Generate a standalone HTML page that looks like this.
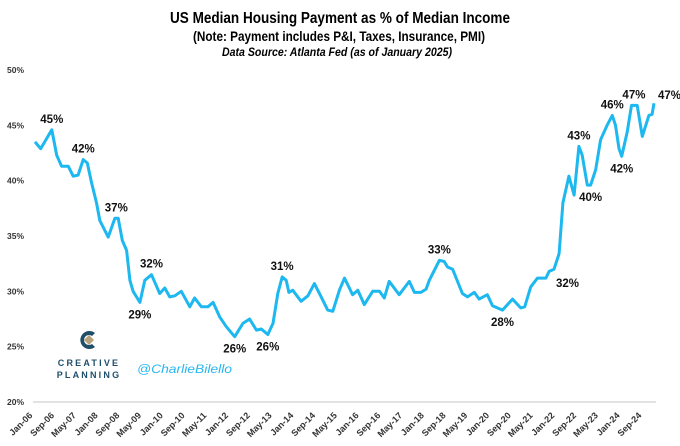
<!DOCTYPE html>
<html><head><meta charset="utf-8"><style>
body{margin:0;background:#fff;}
svg{display:block;font-family:"Liberation Sans",sans-serif;}
</style></head><body>
<svg width="680" height="446" viewBox="0 0 680 446">
<text x="340" y="23" text-anchor="middle" font-size="16" font-weight="bold" textLength="340" lengthAdjust="spacingAndGlyphs">US Median Housing Payment as % of Median Income</text>
<text x="339" y="41" text-anchor="middle" font-size="14" font-weight="bold" textLength="292" lengthAdjust="spacingAndGlyphs">(Note: Payment includes P&amp;I, Taxes, Insurance, PMI)</text>
<text x="337" y="56" text-anchor="middle" font-size="12" font-weight="bold" font-style="italic" textLength="230" lengthAdjust="spacingAndGlyphs">Data Source: Atlanta Fed (as of January 2025)</text>
<g id="yaxis"></g>
<g id="xaxis"></g>
<line x1="33" x2="656" y1="402" y2="402" stroke="#d9d9d9" stroke-width="1.5"/>
<path id="line" fill="none" stroke="#1cb8ef" stroke-width="3" stroke-linejoin="round"/>
<g id="labels"></g>
<g>
<path d="M95 333 A9 9 0 1 0 95 347 L92 344 A5 5 0 1 1 92 336 Z" fill="#1f4e6b"/>
<path d="M89 335 L94 340 L89 345 L84 340 Z" fill="#b9a27a"/>
<text x="89" y="366" text-anchor="middle" font-size="9" font-weight="bold" fill="#1f4e6b" letter-spacing="2.2">CREATIVE</text>
<text x="89" y="378" text-anchor="middle" font-size="9" font-weight="bold" fill="#1f4e6b" letter-spacing="2.2">PLANNING</text>
</g>
<text x="137" y="373" font-size="12" font-style="italic" fill="#29b6f0" textLength="95" lengthAdjust="spacingAndGlyphs">@CharlieBilello</text>
</svg>
<script>
const yTicks=[20,25,30,35,40,45,50];
const xLabels=["Jan-06","Sep-06","May-07","Jan-08","Sep-08","May-09","Jan-10","Sep-10","May-11","Jan-12","Sep-12","May-13","Jan-14","Sep-14","May-15","Jan-16","Sep-16","May-17","Jan-18","Sep-18","May-19","Jan-20","Sep-20","May-21","Jan-22","Sep-22","May-23","Jan-24","Sep-24"];
const months=[0,2.1,6.2,8,9.8,12.3,14.1,15.9,17.8,19.3,20.9,22.7,23.9,27,29.5,30.7,32.2,33.8,35,36.2,38.7,40.5,43,46,47.9,49.7,51.6,54,57.1,58.9,61.4,63.8,65.7,68.1,70.6,73.7,76.7,79.2,81.7,83.5,85.9,87.8,89.6,91.2,92.7,93.7,95.1,98.2,100.7,103.1,105.6,108,109.9,112.3,114.2,117.2,119.1,121.5,124.6,127.1,128.9,130.7,134.4,138.1,140,142.4,144.3,145.5,149.2,151,152.2,154.1,157.7,159.6,162.1,163.9,166.9,168.8,172.5,176.2,179.2,180.7,182.9,185.4,188.5,189.7,191.5,193.4,194.8,197,198.9,200.7,201.9,203.8,205,206.9,208.7,211.1,213,214.2,215.5,216.5,218.5,220.1,222.2,224.1,226.5,227.7,228.4];
const values=[43.5,42.9,44.6,42.3,41.3,41.3,40.4,40.5,41.9,41.6,39.8,38,36.4,34.9,36.6,36.6,34.6,33.7,31,30,29,31,31.5,29.8,30.3,29.5,29.6,30,28.6,29.4,28.6,28.6,29,27.7,26.8,25.9,27.1,27.5,26.5,26.6,26.1,27.1,29.8,31.3,31,29.9,30.1,29.1,29.6,30.7,29.5,28.3,28.2,30.1,31.2,29.7,30.1,28.8,30,30,29.4,30.9,29.7,30.9,29.9,29.9,30.2,31,32.8,32.7,32.2,32,29.8,29.5,29.9,29.3,29.7,28.7,28.3,29.3,28.5,28.6,30.4,31.2,31.2,31.8,32,33.4,38,40.4,38.7,43.1,42.3,39.6,39.6,41,43.7,45,45.9,45,42.9,42.2,44.4,46.8,46.8,44,45.9,46,47];
const annMonths=[6.2,17.8,30,43,38.7,73.7,85.9,91.2,149.2,172.5,191.5,200.7,205,213,216.5,221,228.4];
const annValues=[44.6,41.9,36.6,31.5,29,25.9,26.1,31.3,32.8,28.3,32,43.1,39.6,45.9,42.2,46.8,47];
const annText=["45%","42%","37%","32%","29%","26%","26%","31%","33%","28%","32%","43%","40%","46%","42%","47%","47%"];
const annPos=["a","a","a","a","b","b","b","a","a","b","r","a","b","a","b","a","r2"];
const NS="http://www.w3.org/2000/svg";
const X0=35,X1=654,M1=228.4,Y20=402,Y50=70;
function xs(m){return X0+(X1-X0)*m/M1;}
function ys(v){return Y20-(v-20)*(Y20-Y50)/30;}
function xl(i){return 33+i*21.75;}
const ya=document.getElementById('yaxis');
yTicks.forEach(t=>{const e=document.createElementNS(NS,'text');


e.setAttribute('x',24);e.setAttribute('y',ys(t)+3);e.setAttribute('text-anchor','end');e.setAttribute('font-size','8.5');e.setAttribute('font-weight','bold');e.setAttribute('fill','#333');e.textContent=t+'%';ya.appendChild(e);});
const xa=document.getElementById('xaxis');
xLabels.forEach((l,i)=>{const x=xl(i),y=416;const e=document.createElementNS(NS,'text');


e.setAttribute('x',x);e.setAttribute('y',y);e.setAttribute('text-anchor','end');e.setAttribute('font-size','9');e.setAttribute('font-weight','bold');e.setAttribute('fill','#333');e.setAttribute('transform','rotate(-45 '+x+' '+y+')');e.textContent=l;xa.appendChild(e);});
document.getElementById('line').setAttribute('d',months.map((m,i)=>(i?'L':'M')+xs(m).toFixed(1)+' '+ys(values[i]).toFixed(1)).join(' '));
const lg=document.getElementById('labels');
annText.forEach((t,i)=>{let x=xs(annMonths[i]),y=ys(annValues[i]),p=annPos[i],a='middle';
if(p==='a')y-=7;else if(p==='b')y+=16;else if(p==='r'){x+=2;y+=18;a='start';}else{x+=4;y-=4;a='start';}
const e=document.createElementNS(NS,'text');


e.setAttribute('x',x);e.setAttribute('y',y);e.setAttribute('text-anchor',a);e.setAttribute('font-size','11.5');e.setAttribute('font-weight','bold');e.setAttribute('fill','#111');e.textContent=t;lg.appendChild(e);});
</script>
</body></html>
